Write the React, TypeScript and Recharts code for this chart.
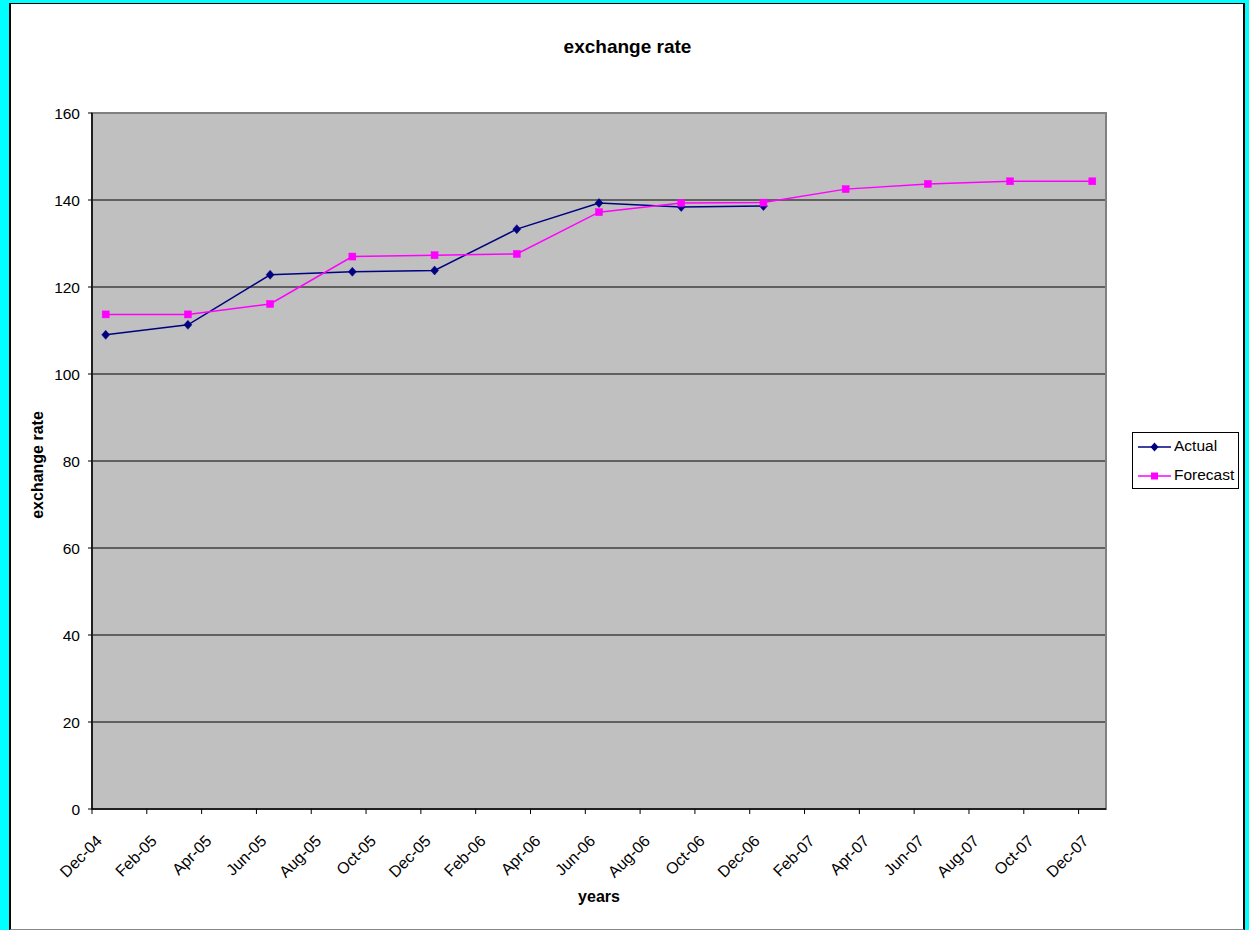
import React from 'react';
import { LineChart, Line, XAxis, YAxis, CartesianGrid, ReferenceArea } from 'recharts';

const dates = ['2004-12', '2005-03', '2005-06', '2005-09', '2005-12', '2006-03', '2006-06', '2006-09', '2006-12', '2007-03', '2007-06', '2007-09', '2007-12'];
const actualValues = [109.0, 111.3, 122.8, 123.5, 123.8, 133.3, 139.3, 138.4, 138.6];
const forecastValues = [113.7, 113.7, 116.1, 127.0, 127.3, 127.6, 137.2, 139.3, 139.4, 142.5, 143.7, 144.3, 144.3];
const tickLabels = ['Dec-04', 'Feb-05', 'Apr-05', 'Jun-05', 'Aug-05', 'Oct-05', 'Dec-05', 'Feb-06', 'Apr-06', 'Jun-06', 'Aug-06', 'Oct-06', 'Dec-06', 'Feb-07', 'Apr-07', 'Jun-07', 'Aug-07', 'Oct-07', 'Dec-07'];
const yTicks = [0, 20, 40, 60, 80, 100, 120, 140, 160];

const monthIndex = (d: string) => {
  const [y, m] = d.split('-').map(Number);
  return (y - 2004) * 12 + (m - 12);
};

const data = dates.map((d, i) => ({
  t: monthIndex(d) + 0.5,
  actual: i < actualValues.length ? actualValues[i] : undefined,
  forecast: forecastValues[i],
}));
const xTicks = tickLabels.map((_, i) => i * 2);

const FONT = '"Liberation Sans", Arial, sans-serif';
const NAVY = '#000080';
const MAGENTA = '#ff00ff';

const DiamondDot = (props: any) => {
  const { cx, cy } = props;
  if (cx == null || cy == null || props.value == null) return null;
  return <polygon points={`${cx},${cy - 4.5} ${cx + 4},${cy} ${cx},${cy + 4.5} ${cx - 4},${cy}`} fill={NAVY} stroke={NAVY} strokeWidth={0.5} />;
};

const SquareDot = (props: any) => {
  const { cx, cy } = props;
  if (cx == null || cy == null || props.value == null) return null;
  return <rect x={cx - 3.5} y={cy - 3.5} width={7} height={7} fill={MAGENTA} stroke={MAGENTA} strokeWidth={0.5} />;
};

const XTick = (props: any) => {
  const { x, y, payload } = props;
  const label = tickLabels[Math.round(payload.value / 2)];
  const ax = x + 11;
  const ay = y + 26;
  return (
    <text x={ax} y={ay} textAnchor="end" fontSize={16} fontFamily={FONT} fill="#000" transform={`rotate(-45, ${ax}, ${ay})`}>
      {label}
    </text>
  );
};

const LegendBox = () => (
  <div style={{ position: 'absolute', left: 1132, top: 432, width: 107, height: 57, border: '1px solid #000', background: '#fff', boxSizing: 'border-box', fontFamily: FONT, fontSize: 15.5, color: '#000' }}>
    <svg width={40} height={57} style={{ position: 'absolute', left: 0, top: 0 }}>
      <line x1={5} y1={14} x2={38} y2={14} stroke={NAVY} strokeWidth={1.5} />
      <polygon points="21.5,9.5 25.5,14 21.5,18.5 17.5,14" fill={NAVY} />
      <line x1={5} y1={43} x2={38} y2={43} stroke={MAGENTA} strokeWidth={1.5} />
      <rect x={18} y={39.5} width={7} height={7} fill={MAGENTA} />
    </svg>
    <div style={{ position: 'absolute', left: 41, top: 4, lineHeight: '18px' }}>Actual</div>
    <div style={{ position: 'absolute', left: 41, top: 33, lineHeight: '18px' }}>Forecast</div>
  </div>
);

export default function App() {
  return (
    <div style={{ position: 'absolute', left: 0, top: 0, width: 1249, height: 930, background: '#00ffff', fontFamily: FONT, overflow: 'hidden' }}>
      <div style={{ position: 'absolute', left: 9, top: 3, width: 1236, height: 927, background: '#fff', borderLeft: '2px solid #000', borderTop: '1px solid #000', borderRight: '2px solid #000', borderBottom: '1px solid #888', boxSizing: 'border-box' }} />
      <div style={{ position: 'absolute', left: 0, top: 0 }}>
        <LineChart width={1249} height={930} data={data} margin={{ top: 113, right: 143, bottom: 0, left: 0 }}>
          <CartesianGrid horizontal vertical={false} stroke="#000" strokeWidth={1} fill="#c0c0c0" fillOpacity={1} />
          <XAxis
            dataKey="t"
            type="number"
            domain={[0, 37]}
            ticks={xTicks}
            interval={0}
            height={121}
            tick={<XTick />}
            tickSize={5}
            axisLine={{ stroke: '#000', strokeWidth: 1.5 }}
            tickLine={{ stroke: '#000' }}
          />
          <YAxis
            type="number"
            domain={[0, 160]}
            ticks={yTicks}
            interval={0}
            width={92}
            tickSize={4}
            tickMargin={8}
            tick={{ fontSize: 15.5, fontFamily: FONT, fill: '#000' }}
            axisLine={{ stroke: '#000', strokeWidth: 1.5 }}
            tickLine={{ stroke: '#000' }}
          />
          <ReferenceArea x1={0} x2={37} y1={0} y2={160} fill="none" stroke="#808080" strokeWidth={2} ifOverflow="visible" />
          <Line dataKey="actual" name="Actual" stroke={NAVY} strokeWidth={1.5} dot={<DiamondDot />} activeDot={false} isAnimationActive={false} connectNulls={false} />
          <Line dataKey="forecast" name="Forecast" stroke={MAGENTA} strokeWidth={1.5} dot={<SquareDot />} activeDot={false} isAnimationActive={false} />
        </LineChart>
      </div>
      <LegendBox />
      <div style={{ position: 'absolute', left: 0, width: 1255, top: 36, textAlign: 'center', fontWeight: 'bold', fontSize: 19, color: '#000' }}>exchange rate</div>
      <div style={{ position: 'absolute', left: 92, width: 1014, top: 888, textAlign: 'center', fontWeight: 'bold', fontSize: 16, color: '#000' }}>years</div>
      <div style={{ position: 'absolute', left: 38 - 100, top: 465 - 10, width: 200, height: 20, lineHeight: '20px', textAlign: 'center', fontWeight: 'bold', fontSize: 16, color: '#000', transform: 'rotate(-90deg)' }}>exchange rate</div>
    </div>
  );
}
